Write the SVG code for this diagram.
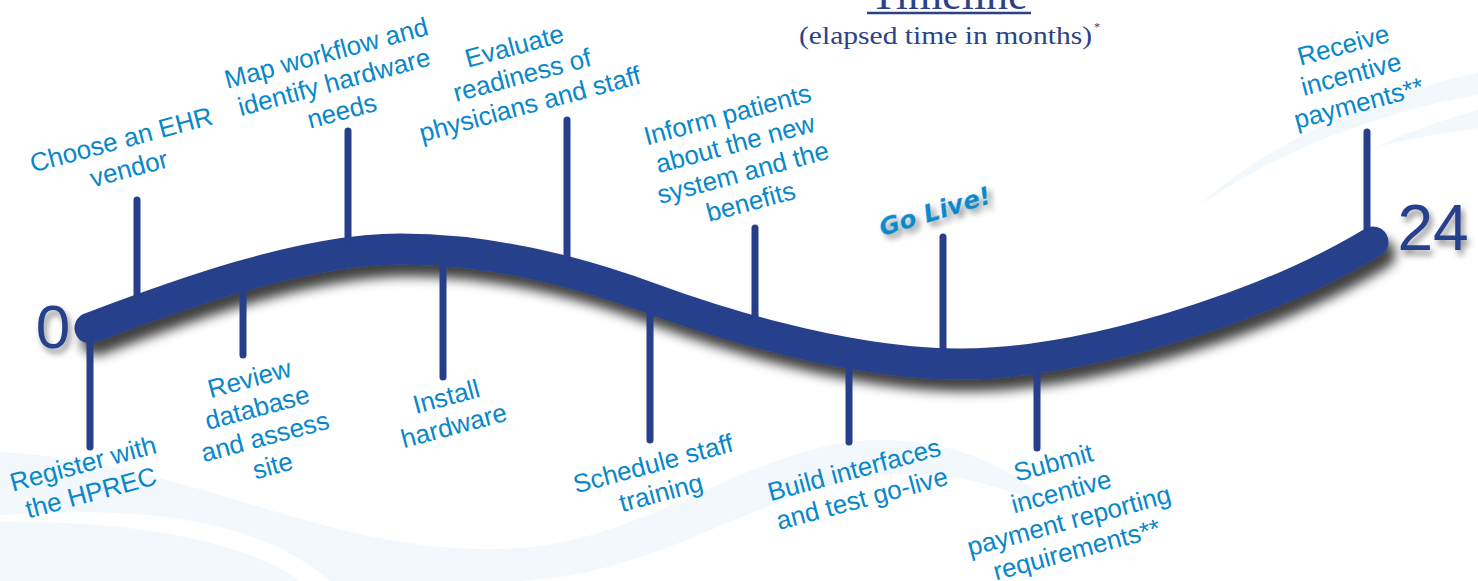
<svg xmlns="http://www.w3.org/2000/svg" width="1478" height="581" viewBox="0 0 1478 581">
<defs>
<filter id="curveShadow" x="-5%" y="-30%" width="112%" height="180%">
<feGaussianBlur in="SourceAlpha" stdDeviation="6"/>
<feOffset dx="7" dy="12" result="b"/>
<feComponentTransfer><feFuncA type="linear" slope="0.75"/></feComponentTransfer>
<feMerge><feMergeNode/><feMergeNode in="SourceGraphic"/></feMerge>
</filter>
<filter id="softShadow" x="-30%" y="-30%" width="160%" height="180%">
<feGaussianBlur in="SourceAlpha" stdDeviation="3"/>
<feOffset dx="3" dy="5" result="b"/>
<feComponentTransfer><feFuncA type="linear" slope="0.45"/></feComponentTransfer>
<feMerge><feMergeNode/><feMergeNode in="SourceGraphic"/></feMerge>
</filter>
<style>
.lbl{font-family:"Liberation Sans",Arial,sans-serif;font-size:26px;fill:#0887c9;text-anchor:middle}
.tick{stroke:#273f8b;stroke-width:7;stroke-linecap:round;fill:none}
.num{font-family:"Liberation Sans",Arial,sans-serif;fill:#273f8b;text-anchor:middle}
.swoosh{fill:#eaf3fa;opacity:0.6}
.serif{font-family:"Liberation Serif","Times New Roman",serif;fill:#2b4286}
</style>
</defs>
<rect width="1478" height="581" fill="#ffffff"/>
<g id="background">
<path class="swoosh" d="M0,452 C200,462 330,560 520,548 C650,540 760,440 880,440 C960,440 1020,470 1070,520 C1000,480 940,470 880,475 C760,490 660,575 520,581 L330,581 C260,520 150,505 0,515 Z"/>
<path class="swoosh" d="M0,522 C150,520 250,545 300,581 L0,581 Z" opacity="0.4"/>
<path class="swoosh" d="M1200,205 C1260,150 1360,100 1478,72 L1478,95 C1380,112 1280,150 1200,205 Z"/>
<path class="swoosh" d="M1375,148 C1410,130 1450,118 1478,110 L1478,128 C1440,134 1400,140 1375,148 Z"/>
</g>
<g id="title">
<text class="serif" x="949" y="9" font-size="44" text-anchor="middle">Timeline</text>
<line x1="867" y1="13" x2="1031" y2="13" stroke="#2b4286" stroke-width="2.5"/>
<text class="serif" x="799" y="44" font-size="26" textLength="293" lengthAdjust="spacingAndGlyphs">(elapsed time in months)</text>
<text class="serif" x="1094" y="31" font-size="12">*</text>
</g>
<g id="connectors">
<path id="timeline-curve" d="M90,328 C170,298 300,249 400,249 C480,249 560,265 650,298 C740,331 860,364 960,364 C1080,364 1260,310 1373,242" fill="none" stroke="#273f8b" stroke-width="31" stroke-linecap="round" filter="url(#curveShadow)"/>
<path class="tick" d="M90,330 V447"/>
<path class="tick" d="M137,200 V300"/>
<path class="tick" d="M243,280 V355"/>
<path class="tick" d="M348,131 V250"/>
<path class="tick" d="M443,250 V377"/>
<path class="tick" d="M567,120 V268"/>
<path class="tick" d="M650,298 V440"/>
<path class="tick" d="M755,228 V326"/>
<path class="tick" d="M849,352 V442"/>
<path class="tick" d="M943,237 V362"/>
<path class="tick" d="M1037,366 V448"/>
<path class="tick" d="M1367,132 V245"/>
</g>
<g id="start"><text class="num" x="53" y="348" font-size="62" filter="url(#softShadow)">0</text></g>
<g id="end"><text class="num" x="1433" y="250" font-size="64" filter="url(#softShadow)">24</text></g>
<g id="n-register" transform="translate(87,478) rotate(-15)"><text class="lbl"><tspan x="0" y="-6">Register with</tspan><tspan x="0" y="24">the HPREC</tspan></text></g>
<g id="n-choose" transform="translate(125,154) rotate(-15)"><text class="lbl"><tspan x="0" y="-6">Choose an EHR</tspan><tspan x="0" y="24">vendor</tspan></text></g>
<g id="n-map" transform="translate(334,82) rotate(-15)"><text class="lbl"><tspan x="0" y="-21">Map workflow and</tspan><tspan x="0" y="9">identify hardware</tspan><tspan x="0" y="39">needs</tspan></text></g>
<g id="n-evaluate" transform="translate(522,75) rotate(-15)"><text class="lbl"><tspan x="0" y="-21">Evaluate</tspan><tspan x="0" y="9">readiness of</tspan><tspan x="0" y="39">physicians and staff</tspan></text></g>
<g id="n-inform" transform="translate(739,158) rotate(-15)"><text class="lbl"><tspan x="0" y="-36">Inform patients</tspan><tspan x="0" y="-6">about the new</tspan><tspan x="0" y="24">system and the</tspan><tspan x="0" y="54">benefits</tspan></text></g>
<g id="n-golive" transform="translate(935,211) rotate(-17)"><text x="0" y="9" text-anchor="middle" font-family="'DejaVu Sans',sans-serif" font-weight="bold" font-style="italic" font-size="25" fill="#0887c9" filter="url(#softShadow)">Go Live!</text></g>
<g id="n-receive" transform="translate(1351,74) rotate(-15)"><text class="lbl"><tspan x="0" y="-21">Receive</tspan><tspan x="0" y="9">incentive</tspan><tspan x="0" y="39">payments**</tspan></text></g>
<g id="n-review" transform="translate(261,422) rotate(-15)"><text class="lbl"><tspan x="0" y="-36">Review</tspan><tspan x="0" y="-6">database</tspan><tspan x="0" y="24">and assess</tspan><tspan x="0" y="54">site</tspan></text></g>
<g id="n-install" transform="translate(450,411) rotate(-15)"><text class="lbl"><tspan x="0" y="-6">Install</tspan><tspan x="0" y="24">hardware</tspan></text></g>
<g id="n-schedule" transform="translate(657,478) rotate(-15)"><text class="lbl"><tspan x="0" y="-6">Schedule staff</tspan><tspan x="0" y="24">training</tspan></text></g>
<g id="n-build" transform="translate(858,484) rotate(-15)"><text class="lbl"><tspan x="0" y="-6">Build interfaces</tspan><tspan x="0" y="24">and test go-live</tspan></text></g>
<g id="n-submit" transform="translate(1065,506) rotate(-15)"><text class="lbl"><tspan x="0" y="-36">Submit</tspan><tspan x="0" y="-6">incentive</tspan><tspan x="0" y="24">payment reporting</tspan><tspan x="0" y="54">requirements**</tspan></text></g>
</svg>
